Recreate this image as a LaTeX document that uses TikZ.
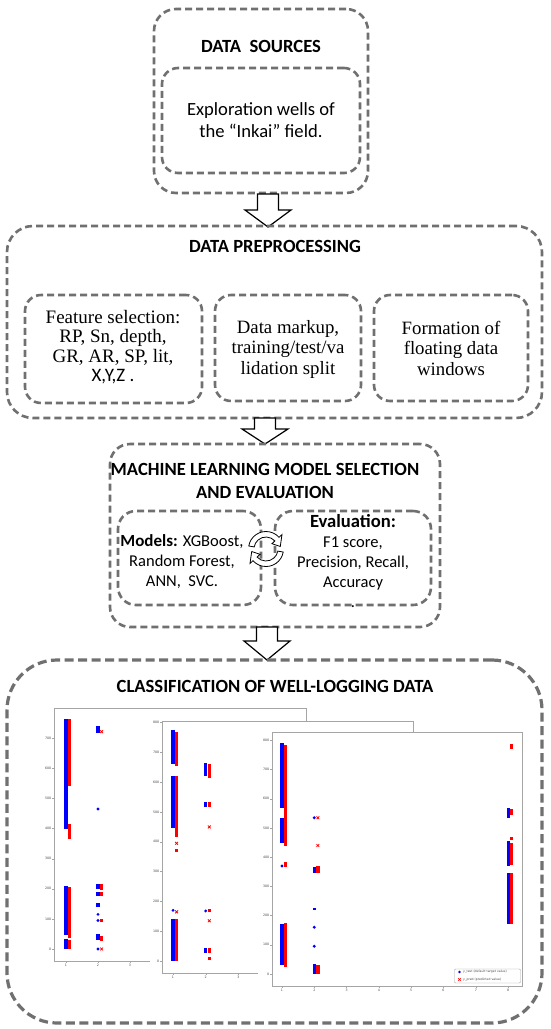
\documentclass[tikz,border=0pt]{standalone}
\usepackage{fontspec}
\setmainfont{Carlito}
\newfontfamily\tnr{Liberation Serif}
\newfontfamily\mpl{DejaVu Sans}
\definecolor{dgray}{RGB}{112,112,112}
\definecolor{pblue}{RGB}{0,0,255}
\definecolor{pred}{RGB}{255,0,0}
\definecolor{spinec}{RGB}{165,165,165}
\definecolor{ticktxt}{RGB}{70,70,70}
\newcommand\pbbar[3]{\fill[pblue] ([xshift=-1.6pt]#1,#2) rectangle ([xshift=1.6pt]#1,#3);}
\newcommand\prbar[3]{\fill[pred] ([xshift=2pt]#1,#2) rectangle ([xshift=5.2pt]#1,#3);}
\newcommand\pbdot[2]{\fill[pblue] (#1,#2) circle (1.6pt);}
\newcommand\prx[2]{\draw[pred, line width=0.8pt] ([xshift=2.2pt,yshift=-1.4pt]#1,#2) -- ([xshift=5pt,yshift=1.4pt]#1,#2) ([xshift=2.2pt,yshift=1.4pt]#1,#2) -- ([xshift=5pt,yshift=-1.4pt]#1,#2);}
\newcommand\blockarr[4]{\draw[fill=white, line width=1.2pt, line join=miter] (#1-10.5,#2) -- (#1+10.5,#2) -- (#1+10.5,#3) -- (#1+23,#3) -- (#1,#4) -- (#1-23,#3) -- (#1-10.5,#3) -- cycle;}
\begin{document}
\begin{tikzpicture}[x=1pt,y=-1pt,
  dbox/.style={draw=dgray, dash pattern=on 7pt off 4pt, line width=2.6pt, rounded corners=#1, inner sep=0pt},
  bigbox/.style={draw=dgray, dash pattern=on 9pt off 4.5pt, line width=3.2pt, rounded corners=50pt, inner sep=0pt},
  ttl/.style={font=\fontsize{18.6}{23}\selectfont\bfseries, align=center, inner sep=0pt},
  sans/.style={font=\fontsize{18.6}{22}\selectfont, align=center, inner sep=0pt},
  serif/.style={font=\fontsize{18.8}{20.5}\selectfont\tnr, align=center, inner sep=0pt},
  mlt/.style={font=\fontsize{16.5}{20}\selectfont, align=center, inner sep=0pt},
  spine/.style={draw=spinec, line width=0.8pt},
  tlab/.style={font=\fontsize{3.2}{3.5}\selectfont\mpl, text=ticktxt, inner sep=0pt},
  tick/.style={draw=spinec, line width=0.4pt}]
\useasboundingbox (0,0) rectangle (550,1029);
\fill[white] (0,0) rectangle (550,1029);

% ---- Box 1 ----
\node[dbox=22pt, minimum width=214pt, minimum height=184pt] (src) at (261,101) {};
\node[dbox=16pt, minimum width=198pt, minimum height=105pt] (srcin) at (261,120.5) {};
\node[ttl] (srct) at (261,46.5) {DATA\ \ SOURCES};
\node[sans] (srctx) at (261,120) {Exploration wells of\\the “Inkai” field.};

\blockarr{268}{194}{210}{227}

% ---- Box 2 ----
\node[dbox=26pt, minimum width=535pt, minimum height=192pt] (prep) at (274.5,322) {};
\node[ttl] (prept) at (275,246) {DATA PREPROCESSING};
\node[dbox=16pt, minimum width=177pt, minimum height=108pt] (pa) at (113.5,349) {};
\node[dbox=16pt, minimum width=146pt, minimum height=106pt] (pb) at (288,348) {};
\node[dbox=16pt, minimum width=154pt, minimum height=106pt] (pc) at (451,348) {};
\node[serif, font=\fontsize{19}{19.5}\selectfont\tnr] (patx) at (113,347) {Feature selection:\\RP, Sn, depth,\\GR, AR, SP, lit,\\\normalfont X,Y,Z .};
\node[serif] (pbtx) at (288,349) {Data markup,\\training/test/va\\lidation split};
\node[serif] (pctx) at (451,348) {Formation of\\floating data\\windows};

\blockarr{265}{418}{429}{444}

% ---- Box 3 ----
\node[dbox=20pt, minimum width=330pt, minimum height=183pt] (ml) at (275,535.5) {};
\node[ttl] (mlt) at (265,481) {MACHINE LEARNING MODEL SELECTION\\AND EVALUATION};
\node[dbox=18pt, minimum width=143pt, minimum height=94pt] (mlL) at (189.5,558) {};
\node[dbox=18pt, minimum width=156pt, minimum height=94pt] (mlR) at (353,558) {};
\node[mlt] (mlLtx) at (182,562) {{\fontsize{17}{20}\selectfont\bfseries Models:} XGBoost,\\Random Forest,\\ANN,\ \ SVC.};
\node[mlt] (mlRtx) at (353,561) {{\fontsize{18.6}{20}\selectfont\bfseries Evaluation:}\\F1 score,\\Precision, Recall,\\Accuracy\\.};
\begin{scope}[shift={(266,549)}]
\draw[fill=white, line width=0.8pt, line join=miter] (190:17.5) arc[start angle=190, end angle=318, radius=17.5] -- (318:21.5) -- (350:14.5) -- (318:8) -- (318:12) arc[start angle=318, end angle=190, radius=12] -- cycle;
\draw[fill=white, line width=0.8pt, line join=miter] (10:17.5) arc[start angle=10, end angle=138, radius=17.5] -- (138:21.5) -- (170:14.5) -- (138:8) -- (138:12) arc[start angle=138, end angle=10, radius=12] -- cycle;
\end{scope}

\blockarr{267}{627}{641}{660}

% ---- Box 4 ----
\node[bigbox, minimum width=535pt, minimum height=363pt] (cls) at (274.5,841.5) {};
\node[ttl] (clst) at (275,686) {CLASSIFICATION OF WELL-LOGGING DATA};

% ---- Plot 1 ----
\draw[spine] (54,708) rectangle (306,961);
\begin{scope}[shift={(34,949)}, x=32pt, y=0.301pt]
\pbbar{1}{0}{32}\pbbar{1}{45}{210}\pbbar{1}{400}{765}
\prbar{1}{0}{30}\prbar{1}{35}{205}\prbar{1}{365}{415}\prbar{1}{540}{765}
\pbbar{2}{718}{742}\prx{2}{722}
\pbdot{2}{465}
\pbbar{2}{200}{216}\prbar{2}{195}{215}
\pbbar{2}{175}{188}\prbar{2}{175}{188}
\pbbar{2}{140}{152}\pbdot{2}{115}\pbdot{2}{95}\prbar{2}{90}{100}
\pbbar{2}{30}{50}\prbar{2}{28}{42}\pbdot{2}{0}\prx{2}{0}
\foreach \v in {0,100,...,700} {\draw[tick] ([xshift=-1.8pt]0.625,\v) -- (0.625,\v);
  \node[tlab, anchor=east] (p1y\v) at ([xshift=-2.6pt]0.625,\v) {\v};}
\foreach \v in {1,2,3} {\draw[tick] (\v,-40) -- ([yshift=-1.8pt]\v,-40);
  \node[tlab, anchor=north] (p1x\v) at ([yshift=-2.6pt]\v,-40) {\v};}
\end{scope}

% ---- Plot 2 ----
\fill[white] (150,721) rectangle (413,985);
\draw[spine] (162,721) rectangle (413,973);
\begin{scope}[shift={(140.3,961)}, x=32.7pt, y=0.298pt]
\pbbar{1}{0}{140}\pbdot{1}{170}\pbbar{1}{445}{620}\pbbar{1}{660}{775}
\prbar{1}{0}{140}\prx{1}{165}\prbar{1}{365}{377}\prx{1}{395}\prbar{1}{415}{620}\prbar{1}{655}{770}
\pbbar{2}{620}{665}\prbar{2}{615}{660}
\pbbar{2}{518}{532}\prbar{2}{518}{532}
\prx{2}{450}
\pbdot{2}{168}\prbar{2}{163}{173}
\prx{2}{135}
\pbbar{2}{28}{42}\prbar{2}{28}{42}
\prbar{2}{5}{13}
\foreach \v in {0,100,...,800} {\draw[tick] ([xshift=-1.8pt]0.664,\v) -- (0.664,\v);
  \node[tlab, anchor=east] (p2y\v) at ([xshift=-2.6pt]0.664,\v) {\v};}
\foreach \v in {1,2,3} {\draw[tick] (\v,-40) -- ([yshift=-1.8pt]\v,-40);
  \node[tlab, anchor=north] (p2x\v) at ([yshift=-2.6pt]\v,-40) {\v};}
\end{scope}

% ---- Plot 3 ----
\fill[white] (258,732) rectangle (522,998);
\draw[spine] (272,732) rectangle (522,986);
\begin{scope}[shift={(249.7,974)}, x=32.3pt, y=0.292pt]
\pbbar{1}{570}{790}\pbbar{1}{450}{535}\pbdot{1}{370}\pbbar{1}{30}{170}
\prbar{1}{440}{785}\prbar{1}{368}{382}\prbar{1}{25}{175}
\pbdot{2}{535}\prx{2}{535}\prx{2}{440}
\pbbar{2}{345}{365}\prbar{2}{345}{370}
\pbbar{2}{218}{226}\pbdot{2}{160}\pbdot{2}{95}
\pbbar{2}{0}{35}\prbar{2}{0}{30}
\prbar{8}{772}{788}
\pbbar{8}{535}{570}\prbar{8}{545}{565}
\prbar{8}{458}{470}
\pbbar{8}{370}{455}\prbar{8}{375}{450}
\pbbar{8}{170}{345}\prbar{8}{170}{345}
\foreach \v in {0,100,...,800} {\draw[tick] ([xshift=-1.8pt]0.69,\v) -- (0.69,\v);
  \node[tlab, anchor=east] (p3y\v) at ([xshift=-2.6pt]0.69,\v) {\v};}
\foreach \v in {1,...,8} {\draw[tick] (\v,-41) -- ([yshift=-1.8pt]\v,-41);
  \node[tlab, anchor=north] (p3x\v) at ([yshift=-2.6pt]\v,-41) {\v};}
\end{scope}
% legend
\node[draw=spinec, line width=0.4pt, rounded corners=1pt, minimum width=66pt, minimum height=14pt, inner sep=0pt] (leg) at (487.5,976) {};
\fill[pblue] (459.5,972) circle (1.3pt);
\draw[pred, line width=0.6pt] (458.2,978.2) -- (460.8,980.8) (458.2,980.8) -- (460.8,978.2);
\node[tlab, anchor=west, font=\fontsize{3.1}{3.5}\selectfont\mpl] (leg1) at (463,972) {y\_test (default target value)};
\node[tlab, anchor=west, font=\fontsize{3.1}{3.5}\selectfont\mpl] (leg2) at (463,979.5) {y\_pred (predicted value)};
\end{tikzpicture}
\end{document}
